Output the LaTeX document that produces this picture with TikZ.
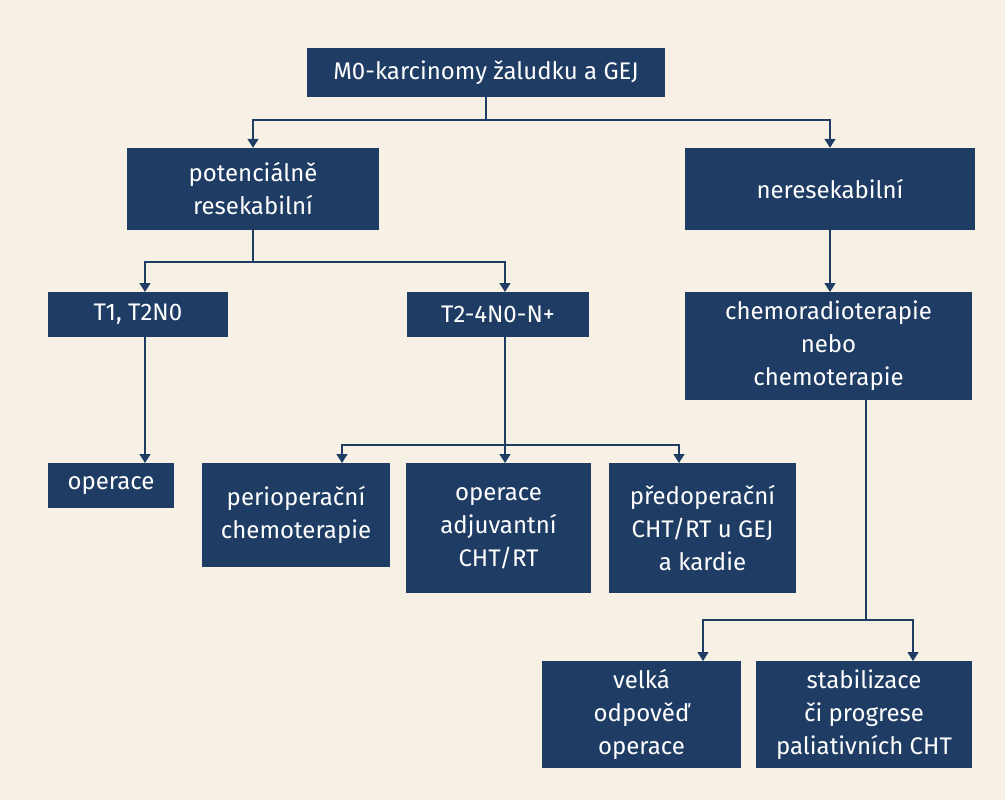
\documentclass[tikz,border=0pt]{standalone}
\usepackage{fontspec}
\setmainfont{Fira Sans}
\usetikzlibrary{arrows.meta}
\definecolor{bg}{HTML}{F6F1E4}
\definecolor{nv}{HTML}{1F3D64}
\begin{document}
\begin{tikzpicture}[x=1pt,y=-1pt,
  box/.style={fill=nv,text=white,align=center,font=\fontsize{24}{33}\selectfont},
  ln/.style={draw=nv,line width=1.6pt},
  ar/.style={ln,-{Triangle[length=9pt,width=11pt]}}]
\fill[bg] (0,0) rectangle (1005,800);
\useasboundingbox (0,0) rectangle (1005,800);
\newcommand\bx[6]{\node[box,minimum width=#4-#2,minimum height=#5-#3] (#1) at ({(#2+#4)/2},{(#3+#5)/2}) {#6};}
\bx{top}{307}{48}{665}{97}{M0-karcinomy žaludku a GEJ}
\bx{pot}{127}{148}{379}{230}{potenciálně\\resekabilní}
\bx{ner}{685}{148}{975}{230}{neresekabilní}
\bx{t1}{48}{292}{228}{337}{T1, T2N0}
\bx{t2}{407}{292}{589}{337}{T2-4N0-N+}
\bx{chr}{685}{292}{972}{400}{chemoradioterapie\\nebo\\chemoterapie}
\bx{op}{48}{463}{174}{508}{operace}
\bx{per}{202}{463}{390}{567}{perioperační\\chemoterapie}
\bx{adj}{406}{463}{591}{593}{operace\\adjuvantní\\CHT/RT}
\bx{pre}{609}{463}{796}{593}{předoperační\\CHT/RT u GEJ\\a kardie}
\bx{vel}{542}{661}{741}{768}{velká\\odpověď\\operace}
\bx{sta}{756}{661}{972}{768}{stabilizace\\či progrese\\paliativních CHT}
\coordinate (j1) at (486,120);
\draw[ln] (top.south) -- (j1);
\draw[ar] (j1) -| (pot.north);
\draw[ar] (j1) -| (ner.north);
\coordinate (j2) at (253,262);
\draw[ln] (pot.south) -- (j2);
\draw[ar] (j2) -| (145,292);
\draw[ar] (j2) -| (505,292);
\draw[ar] (ner.south) -- (830,292);
\draw[ar] (145,337) -- (145,463);
\coordinate (j3) at (505,445);
\draw[ln] (505,337) -- (j3);
\draw[ar] (j3) -| (342,463);
\draw[ar] (j3) -- (505,463);
\draw[ar] (j3) -| (679,463);
\coordinate (j4) at (866,620);
\draw[ln] (866,400) -- (j4);
\draw[ar] (j4) -| (703,661);
\draw[ar] (j4) -| (913,661);
\end{tikzpicture}
\end{document}
